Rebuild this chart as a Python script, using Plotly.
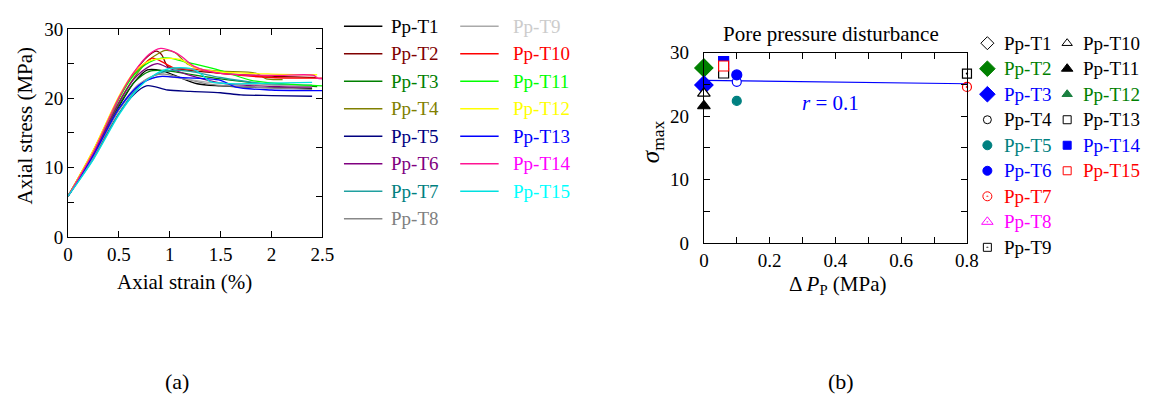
import plotly.graph_objects as go

W, H = 1158, 408
FONT = "Liberation Serif"

# ---------------- (a) stress-strain curves ----------------
names_a = ["Pp-T1", "Pp-T2", "Pp-T3", "Pp-T4", "Pp-T5", "Pp-T6", "Pp-T7", "Pp-T8",
           "Pp-T9", "Pp-T10", "Pp-T11", "Pp-T12", "Pp-T13", "Pp-T14", "Pp-T15"]
line_colors = ["#000000", "#800000", "#008000", "#808000", "#000080", "#800080", "#20a0a0", "#888888",
               "#aaaaaa", "#ff0000", "#00ff00", "#ffff00", "#0000ff", "#ff1493", "#00e0e0"]
text_colors = ["#000000", "#800000", "#008000", "#808000", "#000080", "#800080", "#008080", "#808080",
               "#cccccc", "#ff0000", "#00ff00", "#ffff00", "#0000ff", "#ff00ff", "#00ffff"]

strain_T1 = [0, 0.25, 0.5, 0.65, 0.78, 0.92, 1.05, 1.27, 1.5, 1.8, 2.1, 2.4]
stress_T1 = [5.9, 11.8, 18.8, 22.3, 24.1, 24.0, 23.3, 22.1, 21.8, 21.6, 21.5, 21.4]
strain_T2 = [0, 0.25, 0.5, 0.65, 0.78, 0.87, 0.92, 0.98, 1.1, 1.5, 2.0, 2.45]
stress_T2 = [5.9, 12.4, 20.0, 23.7, 26.0, 26.8, 26.3, 24.6, 24.2, 23.6, 23.2, 23.0]
strain_T3 = [0, 0.25, 0.5, 0.65, 0.8, 0.95, 1.1, 1.5, 2.0, 2.45]
stress_T3 = [5.9, 12.0, 19.0, 22.3, 23.9, 24.0, 23.7, 22.8, 22.0, 21.7]
strain_T4 = [0, 0.25, 0.5, 0.65, 0.8, 0.96, 1.05, 1.17, 1.3, 1.5, 1.85, 1.95, 2.11]
stress_T4 = [5.9, 12.1, 19.5, 23.0, 25.6, 26.9, 26.6, 25.0, 24.2, 23.9, 23.6, 22.8, 22.7]
strain_T5 = [0, 0.25, 0.5, 0.65, 0.77, 0.85, 0.98, 1.2, 1.5, 1.7, 2.0, 2.4]
stress_T5 = [5.9, 11.5, 17.8, 20.6, 21.8, 21.7, 21.2, 21.0, 20.8, 20.5, 20.4, 20.3]
strain_T6 = [0, 0.25, 0.5, 0.65, 0.8, 0.88, 1.0, 1.2, 1.5, 2.0, 2.4]
stress_T6 = [5.9, 12.0, 19.3, 22.8, 24.6, 25.0, 24.3, 23.3, 22.2, 21.7, 21.6]
strain_T7 = [0, 0.25, 0.5, 0.7, 0.85, 1.0, 1.2, 1.5, 2.0, 2.4]
stress_T7 = [5.9, 11.3, 17.8, 21.8, 23.3, 24.0, 23.9, 23.0, 22.0, 21.9]
strain_T8 = [0, 0.25, 0.5, 0.7, 0.85, 0.95, 1.1, 1.4, 2.0, 2.4]
stress_T8 = [5.9, 11.6, 18.3, 22.0, 23.3, 23.5, 23.0, 22.0, 21.5, 21.3]
strain_T9 = [0, 0.25, 0.5, 0.7, 0.85, 0.95, 1.1, 1.4, 2.0, 2.4]
stress_T9 = [5.9, 11.7, 18.5, 22.1, 23.0, 23.2, 22.9, 22.3, 21.9, 21.8]
strain_T10 = [0, 0.25, 0.5, 0.65, 0.75, 0.83, 0.92, 1.04, 1.25, 1.5, 2.0, 2.5]
stress_T10 = [5.9, 12.5, 20.1, 23.6, 25.0, 25.8, 25.3, 24.4, 24.2, 23.6, 23.0, 22.9]
strain_T11 = [0, 0.25, 0.5, 0.65, 0.8, 0.92, 1.0, 1.17, 1.5, 1.8, 2.2, 2.5]
stress_T11 = [5.9, 12.4, 20.0, 23.4, 25.2, 25.8, 25.8, 25.2, 24.0, 22.6, 22.0, 21.8]
strain_T12 = [0, 0.25, 0.5, 0.65, 0.8, 0.9, 1.1, 1.27, 1.5, 2.0, 2.45]
stress_T12 = [5.9, 12.6, 20.3, 23.8, 25.4, 25.7, 25.6, 24.3, 23.8, 23.5, 23.4]
strain_T13 = [0, 0.25, 0.5, 0.7, 0.88, 1.1, 1.5, 1.65, 2.0, 2.5]
stress_T13 = [5.9, 11.8, 18.5, 21.9, 23.1, 23.0, 22.6, 21.6, 21.2, 21.1]
strain_T14 = [0, 0.25, 0.5, 0.65, 0.8, 0.91, 1.04, 1.12, 1.24, 1.5, 2.0, 2.42, 2.45, 2.5]
stress_T14 = [5.9, 12.3, 20.1, 23.8, 26.4, 27.2, 26.7, 26.0, 24.6, 23.6, 23.3, 23.3, 22.9, 22.8]
strain_T15 = [0, 0.25, 0.5, 0.7, 0.85, 1.0, 1.2, 1.3, 1.4, 1.6, 2.0, 2.4]
stress_T15 = [5.9, 11.2, 17.6, 21.6, 23.4, 24.3, 24.3, 23.6, 22.4, 22.1, 22.2, 22.3]

strains = [strain_T1, strain_T2, strain_T3, strain_T4, strain_T5, strain_T6, strain_T7, strain_T8,
           strain_T9, strain_T10, strain_T11, strain_T12, strain_T13, strain_T14, strain_T15]
stresses = [stress_T1, stress_T2, stress_T3, stress_T4, stress_T5, stress_T6, stress_T7, stress_T8,
            stress_T9, stress_T10, stress_T11, stress_T12, stress_T13, stress_T14, stress_T15]

ticks_a_x = [0, 0.5, 1, 1.5, 2, 2.5]
ticklabels_a_x = ["0", "0.5", "1", "1.5", "2", "2.5"]
ticks_a_y = [0, 10, 20, 30]
minor_a_y = [5, 15, 25]
ticks_a_right = [5.8, 12.9, 20, 27.2]

# ---------------- (b) peak stress vs pore pressure disturbance ----------------
names_b = ["Pp-T1", "Pp-T2", "Pp-T3", "Pp-T4", "Pp-T5", "Pp-T6", "Pp-T7", "Pp-T8",
           "Pp-T9", "Pp-T10", "Pp-T11", "Pp-T12", "Pp-T13", "Pp-T14", "Pp-T15"]
dpp = [None, 0, 0, 0.1, 0.1, 0.1, 0.8, None, 0.8, 0, 0, None, 0.06, 0.06, 0.06]
sigma_max = [None, 27.6, 24.9, 25.4, 22.4, 26.5, 24.6, None, 26.7, 23.6, 21.6, None, 26.8, 28.6, 27.9]
symbols_b = ["diamond", "diamond", "diamond", "circle", "circle", "circle", "circle-open-dot",
             "triangle-up-open-dot", "square-open-dot", "triangle-up", "triangle-up", "triangle-up",
             "square", "square", "square"]
fills_b = ["white", "#008000", "#0000ff", "white", "#008080", "#0000ff", "#ff0000", "#ff00ff",
           "#000000", "white", "#000000", "#1a8040", "white", "#0000ff", "white"]
edges_b = ["#000000", "#008000", "#0000ff", "#0000ff", "#008080", "#0000ff", "#ff0000", "#ff00ff",
           "#000000", "#000000", "#000000", "#1a8040", "#000000", "#0000ff", "#ff0000"]
legend_edges_b = ["#000000", "#008000", "#0000ff", "#000000", "#008080", "#0000ff", "#ff0000", "#ff00ff",
                  "#000000", "#000000", "#000000", "#1a8040", "#000000", "#0000ff", "#ff0000"]
sizes_b = [13, 14, 14, 9, 9, 10, 9, 10, 9, 11, 11, 11, 10, 10, 10]
legend_sizes_b = [10, 12, 12, 8, 9, 9, 9, 10, 8, 9, 10, 9, 8, 8, 8]
text_colors_b = ["#000000", "#008000", "#0000ff", "#000000", "#008080", "#0000ff", "#ff0000", "#ff00ff",
                 "#000000", "#000000", "#000000", "#008000", "#000000", "#0000ff", "#ff0000"]

fit_x = [0, 0.8]
fit_y = [25.65, 25.1]
r_value = 0.1

ticks_b_x = [0, 0.2, 0.4, 0.6, 0.8]
minor_b_x = [0.1, 0.3, 0.5, 0.7]
ticks_b_y = [0, 10, 20, 30]
minor_b_y = [5, 15, 25]

fig = go.Figure()


def px_x(x):
    return x / W


def px_y(y):
    return 1 - y / H


def marker_style(sym, size, fill, edge, width):
    if "open" in sym:
        return dict(symbol=sym, size=size, color=edge, line=dict(color=edge, width=width))
    return dict(symbol=sym, size=size, color=fill, line=dict(color=edge, width=width))


# curves of (a)
for i in range(len(names_a)):
    fig.add_trace(go.Scatter(x=strains[i], y=stresses[i], mode="lines",
                             line=dict(color=line_colors[i], width=1.3, shape="spline", smoothing=0.8),
                             xaxis="x", yaxis="y", showlegend=False, hoverinfo="skip"))

# helper trace for the right-hand ticks of (a)
fig.add_trace(go.Scatter(x=[None], y=[None], xaxis="x", yaxis="y4", showlegend=False))

# fit line of (b)
fig.add_trace(go.Scatter(x=fit_x, y=fit_y, mode="lines", line=dict(color="#0000ff", width=1.2),
                         xaxis="x2", yaxis="y2", showlegend=False, hoverinfo="skip", cliponaxis=False))

# markers of (b)
for i in range(len(names_b)):
    if dpp[i] is None:
        continue
    mk = marker_style(symbols_b[i], sizes_b[i], fills_b[i], edges_b[i], 1.2)
    fig.add_trace(go.Scatter(x=[dpp[i]], y=[sigma_max[i]], mode="markers", marker=mk,
                             xaxis="x2", yaxis="y2", showlegend=False, cliponaxis=False))

annotations = []
shapes = []

# legend of (a)
row_a = 29.0
for i in range(len(names_a)):
    col = 0 if i < 8 else 1
    r = i if i < 8 else i - 8
    yy = 17 + row_a * r
    x0, x1, xt = (344, 383, 390) if col == 0 else (462, 501, 514)
    shapes.append(dict(type="line", xref="paper", yref="paper", x0=px_x(x0), x1=px_x(x1),
                       y0=px_y(yy), y1=px_y(yy), line=dict(color=line_colors[i], width=1.5)))
    annotations.append(dict(text=names_a[i], x=px_x(xt), y=px_y(yy), xref="paper", yref="paper",
                            xanchor="left", yanchor="middle", showarrow=False,
                            font=dict(family=FONT, size=19, color=text_colors[i])))

# legend of (b): markers placed on a full-page pixel canvas
row_b = 26.9
for i in range(len(names_b)):
    col = 0 if i < 9 else 1
    r = i if i < 9 else i - 9
    yy = 35 + row_b * r
    xm, xt = (997, 1012) if col == 0 else (1078, 1092)
    mk = marker_style(symbols_b[i], legend_sizes_b[i], fills_b[i], legend_edges_b[i], 1.0)
    fig.add_trace(go.Scatter(x=[xm], y=[yy], mode="markers", marker=mk, xaxis="x3", yaxis="y3",
                             showlegend=False, hoverinfo="skip"))
    annotations.append(dict(text=names_b[i], x=px_x(xt), y=px_y(yy), xref="paper", yref="paper",
                            xanchor="left", yanchor="middle", showarrow=False,
                            font=dict(family=FONT, size=19, color=text_colors_b[i])))

# titles and labels
labels = [
    dict(text="Axial stress (MPa)", x=px_x(20), y=px_y(122), textangle=-90),
    dict(text="Axial strain (%)", x=px_x(182), y=px_y(287)),
    dict(text="Pore pressure disturbance", x=px_x(838), y=px_y(25)),
    dict(text="<i>σ</i><sub>max</sub>", x=px_x(657), y=px_y(139), textangle=-90, font_size=25),
    dict(text="Δ <i>P</i><sub>P</sub> (MPa)", x=px_x(845), y=px_y(290)),
    dict(text="<i>r</i> = %.1f" % r_value, x=px_x(838), y=px_y(98), font_color="#0000ff"),
    dict(text="(a)", x=px_x(175), y=px_y(392), font_size=22),
    dict(text="(b)", x=px_x(848), y=px_y(392), font_size=22),
]
for a in labels:
    a.update(xref="paper", yref="paper", showarrow=False, xanchor="center", yanchor="middle")
    a["font"] = dict(family=FONT, size=a.pop("font_size", 21), color=a.pop("font_color", "#000000"))
annotations += labels

tick_style = dict(ticks="inside", ticklen=6, tickcolor="#000000", tickwidth=1.2)
axis_common = dict(showline=True, linecolor="#000000", linewidth=1.2, showgrid=False, zeroline=False,
                   tickfont=dict(family=FONT, size=19, color="#000000"), **tick_style)

fig.update_layout(
    width=W, height=H, margin=dict(l=0, r=0, t=0, b=0),
    paper_bgcolor="white", plot_bgcolor="rgba(0,0,0,0)",
    showlegend=False,
    font=dict(family=FONT, color="#000000"),
    xaxis=dict(domain=[px_x(64), px_x(322)], range=[0, 2.5], anchor="y", mirror="ticks",
               tickmode="array", tickvals=ticks_a_x, ticktext=ticklabels_a_x, **axis_common),
    yaxis=dict(domain=[px_y(239.3), px_y(20)], range=[0, 30], anchor="x", mirror=True,
               tickmode="array", tickvals=ticks_a_y,
               minor=dict(tickmode="array", tickvals=minor_a_y, showgrid=False, **tick_style),
               **axis_common),
    yaxis4=dict(overlaying="y", side="right", anchor="x", range=[0, 30], tickmode="array",
                tickvals=ticks_a_right, showticklabels=False, showline=False, showgrid=False,
                zeroline=False, **tick_style),
    xaxis2=dict(domain=[px_x(709.3), px_x(976.3)], range=[0, 0.8], anchor="y2", mirror="ticks",
                tickmode="array", tickvals=ticks_b_x, ticktext=["0", "0.2", "0.4", "0.6", "0.8"],
                minor=dict(tickmode="array", tickvals=minor_b_x, showgrid=False, **tick_style),
                **axis_common),
    yaxis2=dict(domain=[px_y(245.7), px_y(45)], range=[0, 30], anchor="x2", mirror="ticks",
                tickmode="array", tickvals=ticks_b_y,
                minor=dict(tickmode="array", tickvals=minor_b_y, showgrid=False, **tick_style),
                ticklabelstandoff=10, **axis_common),
    xaxis3=dict(domain=[0, 1], range=[0, W], anchor="y3", visible=False, fixedrange=True),
    yaxis3=dict(domain=[0, 1], range=[H, 0], anchor="x3", visible=False, fixedrange=True),
    annotations=annotations,
    shapes=shapes,
)

fig.write_html("out.html")
